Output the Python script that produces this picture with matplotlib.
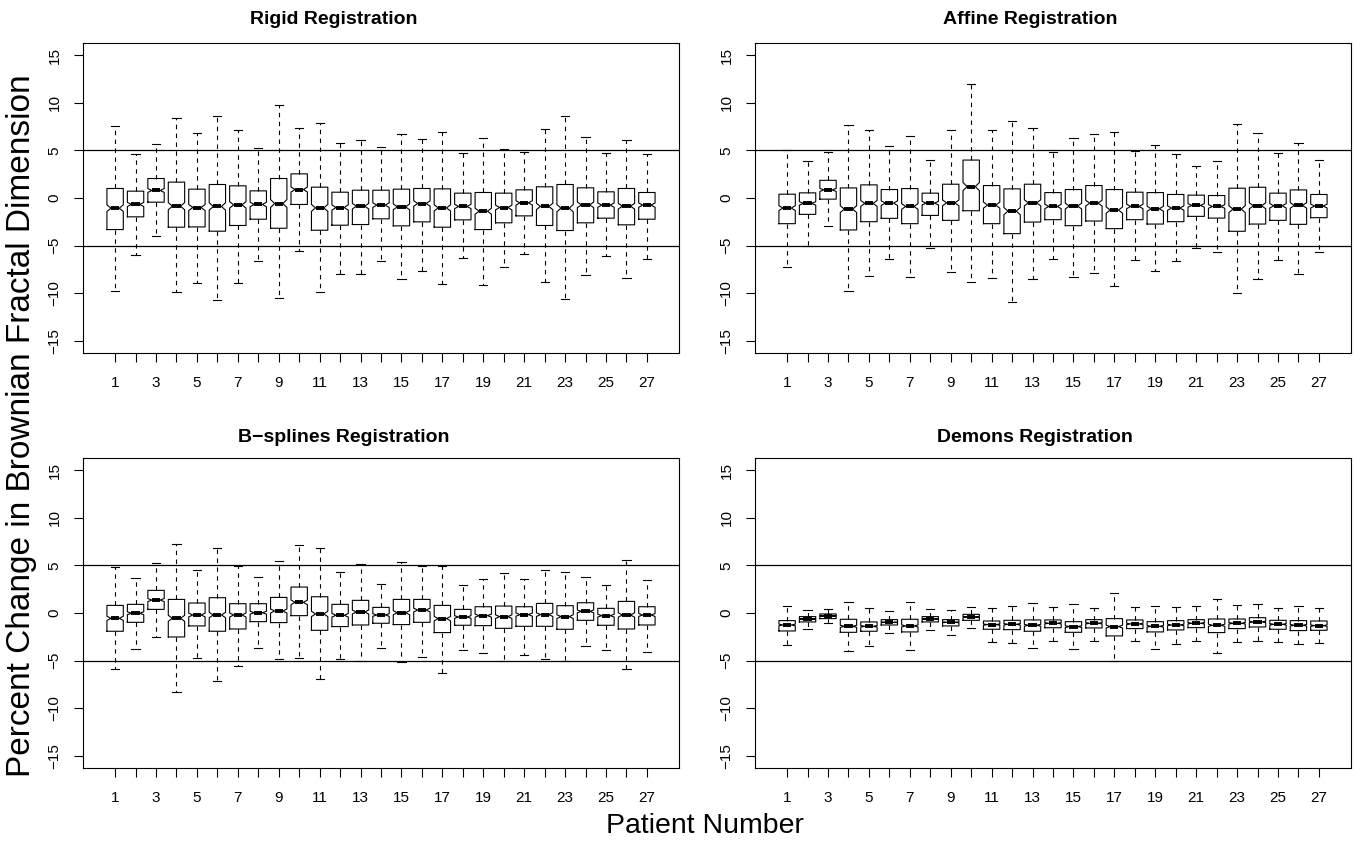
import matplotlib
matplotlib.use("Agg")
import matplotlib.pyplot as plt

plt.rcParams["font.family"] = ["Liberation Sans", "DejaVu Sans"]

patients = list(range(1, 28))
tick_labels = [str(p) if p % 2 == 1 else "" for p in patients]
y_ticks = [-15, -10, -5, 0, 5, 10, 15]

# Rigid registration: whisker low, Q1, median, Q3, whisker high
rigid_lo = [-9.77, -5.98, -3.95, -9.91, -8.89, -10.68, -8.96, -6.58, -10.47, -5.53, -9.88, -7.95, -8.02, -6.63,
            -8.51, -7.67, -9.04, -6.30, -9.11, -7.25, -5.88, -8.86, -10.58, -8.09, -6.05, -8.44, -6.40]
rigid_q1 = [-3.32, -1.98, -0.44, -3.07, -3.04, -3.49, -2.89, -2.23, -3.18, -0.68, -3.39, -2.86, -2.79, -2.19,
            -2.93, -2.51, -3.07, -2.30, -3.32, -2.61, -1.88, -2.89, -3.42, -2.61, -2.12, -2.82, -2.23]
rigid_med = [-1.07, -0.68, 0.79, -0.86, -1.00, -0.89, -0.72, -0.68, -0.58, 0.89, -1.04, -1.00, -0.86, -0.75,
             -0.93, -0.58, -1.04, -0.89, -1.39, -1.00, -0.51, -0.89, -1.07, -0.72, -0.75, -0.86, -0.75]
rigid_q3 = [1.00, 0.72, 2.05, 1.67, 0.93, 1.42, 1.28, 0.75, 2.05, 2.54, 1.14, 0.61, 0.82, 0.82,
            0.93, 1.00, 0.96, 0.51, 0.58, 0.51, 0.86, 1.18, 1.42, 1.07, 0.65, 1.00, 0.58]
rigid_hi = [7.53, 4.65, 5.67, 8.37, 6.79, 8.65, 7.11, 5.21, 9.77, 7.39, 7.84, 5.77, 6.05, 5.32,
            6.68, 6.16, 6.96, 4.68, 6.33, 5.11, 4.86, 7.21, 8.61, 6.44, 4.75, 6.12, 4.58]

# Affine registration
affine_lo = [-7.26, -5.10, -2.98, -9.81, -8.21, -6.46, -8.28, -5.28, -7.79, -8.87, -8.38, -10.89, -8.48, -6.46,
             -8.31, -7.92, -9.29, -6.50, -7.65, -6.60, -5.28, -5.66, -9.95, -8.55, -6.53, -8.03, -5.70]
affine_q1 = [-2.70, -1.72, -0.12, -3.36, -2.49, -2.14, -2.70, -1.83, -2.35, -1.34, -2.70, -3.75, -2.53, -2.28,
             -2.91, -2.42, -3.22, -2.28, -2.74, -2.49, -1.93, -2.11, -3.50, -2.74, -2.35, -2.77, -2.07]
affine_med = [-1.06, -0.57, 0.85, -1.17, -0.57, -0.54, -0.89, -0.54, -0.51, 1.20, -0.75, -1.38, -0.51, -0.89,
              -0.85, -0.54, -1.27, -0.89, -1.13, -1.06, -0.78, -0.89, -1.17, -0.82, -0.82, -0.78, -0.85]
affine_q3 = [0.40, 0.54, 1.86, 1.06, 1.38, 0.89, 0.99, 0.51, 1.45, 3.99, 1.31, 0.96, 1.45, 0.57,
             0.89, 1.31, 0.89, 0.61, 0.57, 0.37, 0.30, 0.26, 1.03, 1.13, 0.51, 0.85, 0.37]
affine_hi = [5.10, 3.92, 4.79, 7.68, 7.20, 5.42, 6.53, 3.95, 7.13, 11.97, 7.20, 8.07, 7.34, 4.79,
             6.36, 6.71, 6.92, 4.90, 5.56, 4.62, 3.40, 3.89, 7.79, 6.85, 4.69, 5.80, 3.95]

# B-splines registration
bspline_lo = [-5.87, -3.74, -2.52, -8.32, -4.69, -7.10, -5.56, -3.67, -4.83, -4.72, -6.92, -4.86, -5.07, -3.71,
              -5.17, -4.62, -6.26, -3.85, -4.23, -5.00, -4.44, -4.83, -5.03, -3.46, -3.85, -5.87, -4.06]
bspline_q1 = [-1.92, -0.98, 0.38, -2.52, -1.36, -1.92, -1.68, -0.91, -1.01, -0.28, -1.82, -1.43, -1.26, -1.08,
              -1.22, -0.98, -2.06, -1.29, -1.33, -1.61, -1.40, -1.40, -1.71, -0.77, -1.29, -1.68, -1.26]
bspline_med = [-0.56, -0.03, 1.36, -0.56, -0.21, -0.21, -0.21, 0.03, 0.21, 1.12, -0.10, -0.24, 0.10, -0.21,
               0.03, 0.31, -0.59, -0.42, -0.28, -0.38, -0.17, -0.17, -0.38, 0.17, -0.28, -0.21, -0.21]
bspline_q3 = [0.80, 0.91, 2.38, 1.43, 1.05, 1.61, 0.98, 0.98, 1.64, 2.73, 1.71, 0.91, 1.33, 0.59,
              1.43, 1.43, 0.80, 0.38, 0.66, 0.73, 0.66, 1.01, 0.77, 1.08, 0.49, 1.22, 0.66]
bspline_hi = [4.79, 3.71, 5.28, 7.27, 4.55, 6.82, 4.90, 3.81, 5.49, 7.17, 6.82, 4.34, 5.17, 3.08,
              5.38, 4.93, 4.93, 2.97, 3.53, 4.16, 3.53, 4.48, 4.34, 3.74, 2.97, 5.56, 3.50]

# Demons registration
demons_lo = [-3.36, -1.71, -1.05, -4.02, -3.43, -2.10, -3.92, -1.75, -2.34, -1.54, -3.08, -3.18, -3.71, -2.90,
             -3.78, -2.90, -5.07, -2.94, -3.74, -3.25, -2.97, -4.16, -3.04, -2.97, -3.08, -3.29, -3.18]
demons_q1 = [-1.89, -0.94, -0.59, -2.03, -1.92, -1.26, -1.99, -0.94, -1.36, -0.77, -1.71, -1.75, -1.92, -1.55,
             -2.03, -1.57, -2.41, -1.64, -1.99, -1.78, -1.54, -2.06, -1.64, -1.47, -1.71, -1.85, -1.82]
demons_med = [-1.26, -0.63, -0.31, -1.40, -1.40, -0.98, -1.36, -0.63, -0.98, -0.42, -1.22, -1.19, -1.29, -1.08,
              -1.43, -1.08, -1.43, -1.15, -1.40, -1.26, -1.08, -1.29, -1.08, -0.94, -1.19, -1.29, -1.33]
demons_q3 = [-0.80, -0.38, -0.10, -0.66, -0.94, -0.70, -0.66, -0.38, -0.70, -0.14, -0.84, -0.77, -0.73, -0.73,
             -0.91, -0.70, -0.59, -0.73, -0.91, -0.80, -0.70, -0.63, -0.63, -0.49, -0.77, -0.80, -0.84]
demons_hi = [0.77, 0.35, 0.38, 1.19, 0.52, 0.24, 1.19, 0.42, 0.35, 0.66, 0.56, 0.73, 1.08, 0.68,
             0.91, 0.52, 2.13, 0.59, 0.73, 0.66, 0.73, 1.50, 0.87, 0.94, 0.56, 0.77, 0.49]

NOTCH_FRAC = 0.08  # half notch height as a fraction of the IQR

panels = [
    ("Rigid Registration", rigid_lo, rigid_q1, rigid_med, rigid_q3, rigid_hi),
    ("Affine Registration", affine_lo, affine_q1, affine_med, affine_q3, affine_hi),
    ("B\u2212splines Registration", bspline_lo, bspline_q1, bspline_med, bspline_q3, bspline_hi),
    ("Demons Registration", demons_lo, demons_q1, demons_med, demons_q3, demons_hi),
]

W, H = 1354, 844
fig = plt.figure(figsize=(W / 100, H / 100), dpi=100)

# axes boxes in pixels: (left, top, width, height)
boxes = [(83, 43, 596, 310), (755, 43, 596, 310), (83, 458, 596, 310), (755, 458, 596, 310)]
title_pos = [(334, 20), (1030, 20), (344, 437), (1035, 437)]

for (title, lo, q1, med, q3, hi), (bx, by, bw, bh), (tx, ty) in zip(panels, boxes, title_pos):
    ax = fig.add_axes([bx / W, 1 - (by + bh) / H, bw / W, bh / H])
    stats = []
    for a, b, m, c, d in zip(lo, q1, med, q3, hi):
        n = NOTCH_FRAC * (c - b)
        stats.append(dict(whislo=a, q1=b, med=m, q3=c, whishi=d, cilo=m - n, cihi=m + n, fliers=[]))
    ax.axhline(5, color="black", lw=0.9, zorder=1)
    ax.axhline(-5, color="black", lw=0.9, zorder=1)
    ax.bxp(stats, positions=patients, widths=0.8, capwidths=0.4, shownotches=True, showfliers=False,
           manage_ticks=False,
           boxprops=dict(color="black", lw=0.8),
           whiskerprops=dict(color="black", lw=0.8, linestyle=(0, (4, 4))),
           capprops=dict(color="black", lw=0.8),
           medianprops=dict(color="black", lw=2.8, solid_capstyle="butt"))
    ax.set_xlim(-0.57, 28.57)
    ax.set_ylim(-16.3, 16.3)
    ax.set_xticks(patients)
    ax.set_xticklabels(tick_labels, fontsize=11)
    ax.set_yticks(y_ticks)
    ax.set_yticklabels([str(v).replace("-", "\u2212") for v in y_ticks], fontsize=11,
                       rotation=90, va="center")
    ax.tick_params(axis="x", length=6.5, width=0.8, pad=10)
    ax.tick_params(axis="y", length=6.5, width=0.8, pad=9)
    for sp in ax.spines.values():
        sp.set_linewidth(0.8)
    fig.text(tx / W, 1 - ty / H, title, ha="center", va="center", fontsize=14, fontweight="bold")

fig.text(705 / W, 1 - 826 / H, "Patient Number", ha="center", va="center", fontsize=20.5)
fig.text(22 / W, 1 - 426 / H, "Percent Change in Brownian Fractal Dimension", ha="center", va="center",
         fontsize=24, rotation=90)

fig.savefig("out.png", dpi=100)
